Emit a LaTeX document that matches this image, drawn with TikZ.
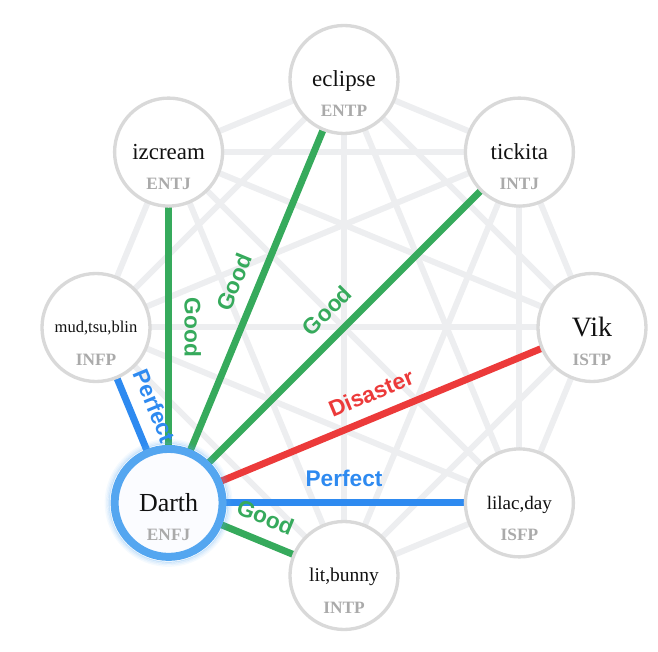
\documentclass[tikz,border=0pt]{standalone}
\usepackage{fontspec}
\setmainfont{Liberation Serif}
\newfontfamily\lblfont{Liberation Sans}
\pgfdeclarelayer{bg}
\pgfsetlayers{bg,main}
\definecolor{edgegray}{RGB}{237,238,240}
\definecolor{ringgray}{RGB}{217,217,217}
\definecolor{goodgreen}{RGB}{54,170,92}
\definecolor{perfblue}{RGB}{46,138,240}
\definecolor{disred}{RGB}{236,58,58}
\definecolor{darthring}{RGB}{84,166,240}
\definecolor{typegray}{RGB}{170,170,170}
\tikzset{
  person/.style={circle, draw=ringgray, line width=2.5pt, fill=white, minimum size=81pt, inner sep=0pt},
  me/.style={circle, draw=darthring, line width=6pt, fill={rgb,255:red,251;green,252;blue,255}, minimum size=81pt, inner sep=0pt},
  grayedge/.style={draw=edgegray, line width=4.5pt},
  coledge/.style={line width=5.2pt},
  nametext/.style={anchor=base, inner sep=0pt, text={rgb,255:red,17;green,17;blue,17}},
  typetext/.style={anchor=base, inner sep=0pt, text=typegray, font=\bfseries\fontsize{13}{13}\selectfont},
  lbl/.style={anchor=base, inner sep=0pt, font=\lblfont\bfseries\fontsize{17}{17}\selectfont}
}
\begin{document}
\begin{tikzpicture}[x=0.75pt,y=-0.75pt]
\useasboundingbox (0,0) rectangle (658,652);
% nodes
\node[person] (eclipse) at (344,79.5) {};
\node[person] (tickita) at (519.4,152.1) {};
\node[person] (vik) at (592,327.5) {};
\node[person] (lilac) at (519.4,502.9) {};
\node[person] (lit) at (344,575.5) {};
\node[person] (mud) at (96,327.5) {};
\node[person] (izcream) at (168.6,152.1) {};
% glow around Darth
\foreach \r/\o in {44.5/0.30,45.5/0.20,46.5/0.12,47.5/0.06}{
  \draw[darthring, opacity=\o, line width=0.9pt] (168.6,502.9) circle[radius=\r pt];
}
\node[me] (darth) at (168.6,502.9) {};
% gray edges
\begin{pgfonlayer}{bg}
\foreach \a/\b in {eclipse/tickita,eclipse/vik,eclipse/lilac,eclipse/lit,eclipse/mud,eclipse/izcream,
  tickita/vik,tickita/lilac,tickita/lit,tickita/mud,tickita/izcream,
  vik/lilac,vik/lit,vik/mud,vik/izcream,
  lilac/lit,lilac/mud,lilac/izcream,
  lit/mud,lit/izcream,
  mud/izcream}{
  \draw[grayedge] (\a.center) -- (\b.center);
}
\draw[coledge, draw=goodgreen] (darth.center) -- (izcream.center);
\draw[coledge, draw=goodgreen] (darth.center) -- (eclipse.center);
\draw[coledge, draw=goodgreen] (darth.center) -- (tickita.center);
\draw[coledge, draw=disred] (darth.center) -- (vik.center);
\draw[coledge, draw=perfblue] (darth.center) -- (lilac.center);
\draw[coledge, draw=goodgreen] (darth.center) -- (lit.center);
\draw[coledge, draw=perfblue] (darth.center) -- (mud.center);
\end{pgfonlayer}
% names
\node[nametext, font=\fontsize{17.2}{18}\selectfont] (eclipsename) at (344,87) {eclipse};
\node[typetext] (eclipsetype) at (344,116.5) {ENTP};
\node[nametext, font=\fontsize{17.2}{18}\selectfont] (tickitaname) at (519.4,159.7) {tickita};
\node[typetext] (tickitatype) at (519.4,190) {INTJ};
\node[nametext, font=\fontsize{21}{22}\selectfont] (vikname) at (592,336.7) {Vik};
\node[typetext] (viktype) at (592,365.5) {ISTP};
\node[nametext, font=\fontsize{14.3}{15}\selectfont] (lilacname) at (519.4,509.2) {lilac,day};
\node[typetext] (lilactype) at (519.4,540.9) {ISFP};
\node[nametext, font=\fontsize{14.6}{15}\selectfont] (litname) at (344,582) {lit,bunny};
\node[typetext] (littype) at (344,613.5) {INTP};
\node[nametext, font=\fontsize{19.5}{20}\selectfont] (darthname) at (168.6,511.5) {Darth};
\node[typetext] (darthtype) at (168.6,540.9) {ENFJ};
\node[nametext, font=\fontsize{12.4}{13}\selectfont] (mudname) at (96,333) {mud,tsu,blin};
\node[typetext] (mudtype) at (96,365.5) {INFP};
\node[nametext, font=\fontsize{17.2}{18}\selectfont] (izcreamname) at (168.6,159.7) {izcream};
\node[typetext] (izcreamtype) at (168.6,190) {ENTJ};
% edge labels
\node[lbl, text=goodgreen, rotate=-90] (l1) at (184.6,327.5) {Good};
\node[lbl, text=goodgreen, rotate=67.5] (l2) at (241.5,285.1) {Good};
\node[lbl, text=goodgreen, rotate=45] (l3) at (332.7,316.2) {Good};
\node[lbl, text=disred, rotate=22.5] (l4) at (374.2,400.4) {Disaster};
\node[lbl, text=perfblue] (l5) at (344,486.9) {Perfect};
\node[lbl, text=goodgreen, rotate=-22.5] (l6) at (262.4,524.4) {Good};
\node[lbl, text=perfblue, rotate=-67.5] (l7) at (147.1,409.1) {Perfect};
\end{tikzpicture}
\end{document}
